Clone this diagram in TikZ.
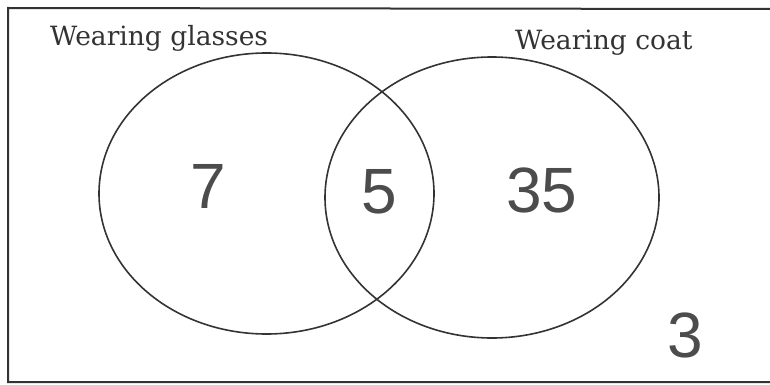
\documentclass[tikz,border=0pt]{standalone}
\usepackage{fontspec}
\newfontfamily\labelfont{DejaVu Serif}
\newfontfamily\digitfont{Liberation Sans}
\begin{document}
\begin{tikzpicture}[x=1pt,y=-1pt,
  setline/.style={line width=1.6pt,draw=black!80},
  frameline/.style={line width=2pt,draw=black!80},
  settitle/.style={font=\labelfont\fontsize{26.5}{26.5}\selectfont,text=black!80,inner sep=0pt,anchor=base west},
  count/.style={font=\digitfont\fontsize{64}{64}\selectfont,text=black!70,inner sep=0pt,anchor=base}]
\useasboundingbox (0,0) rectangle (770,385);
\draw[frameline] (770,9) -- (8,8) -- (8,382) -- (770,382);
\draw[setline] (266.5,193.5) ellipse [x radius=167.5, y radius=140.5];
\draw[setline] (492,197.5) ellipse [x radius=167, y radius=140.5];
\node[settitle] (tg) at (50,46) {Wearing glasses};
\node[settitle] (tc) at (515,50) {Wearing coat};
\node[count] (n7) at (208,208) {7};
\node[count] (n5) at (379,213) {5};
\node[count] (n35) at (542,212) {35};
\node[count] (n3) at (685,357) {3};
\end{tikzpicture}
\end{document}
